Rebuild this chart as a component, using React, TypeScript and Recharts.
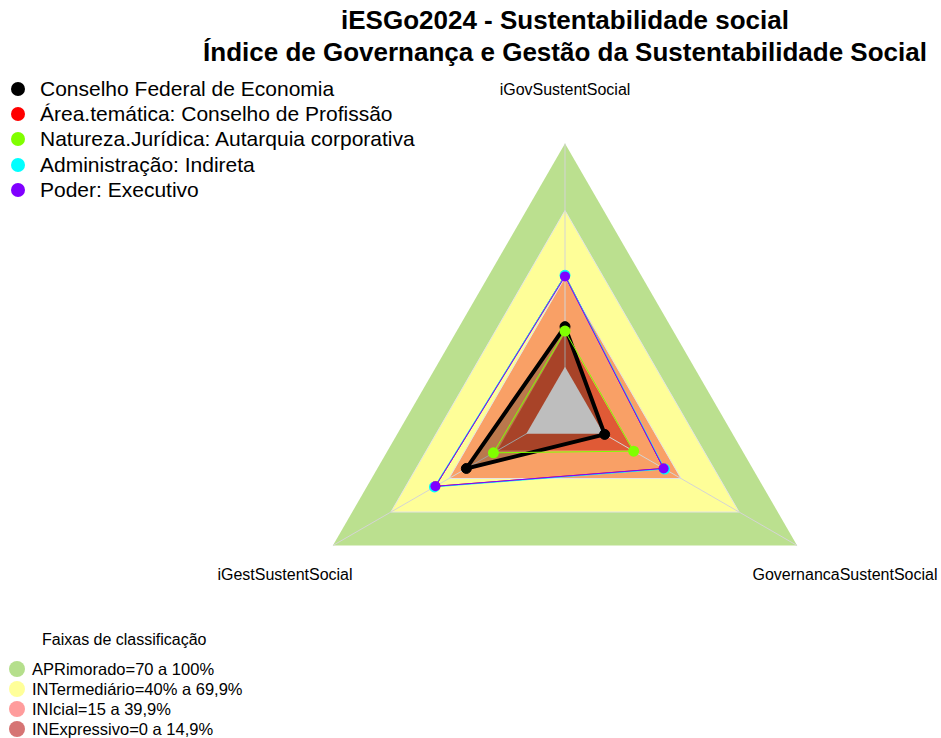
import { PolarAngleAxis, PolarGrid, PolarRadiusAxis, Radar, RadarChart } from "recharts";

// axes, clockwise from the top
const categories = ["iGovSustentSocial", "GovernancaSustentSocial", "iGestSustentSocial"];

// classification bands (same on every axis)
const bandAprimorado = [100, 100, 100];
const bandIntermediario = [70, 70, 70];
const bandInicial = [40, 40, 40];
const bandInexpressivo = [15, 15, 15];
const bandCentro = [0, 0, 0];

// series values
const conselhoFederal = [18, 0.5, 31];
const areaTematica = [41, 31, 47];
const naturezaJuridica = [16, 15.5, 17];
const administracao = [41, 31.5, 47.5];
const poder = [40.5, 31, 47];

const seriesLegend = [
  { name: "Conselho Federal de Economia", color: "#000000" },
  { name: "Área.temática: Conselho de Profissão", color: "#ff0000" },
  { name: "Natureza.Jurídica: Autarquia corporativa", color: "#80ff00" },
  { name: "Administração: Indireta", color: "#00ffff" },
  { name: "Poder: Executivo", color: "#8000ff" },
];

const bandLegend = [
  { name: "APRimorado=70 a 100%", color: "#b5df8c" },
  { name: "INTermediário=40% a 69,9%", color: "#ffff99" },
  { name: "INIcial=15 a 39,9%", color: "#ff9c9c" },
  { name: "INExpressivo=0 a 14,9%", color: "#d67474" },
];

const data = categories.map((axis, i) => ({
  axis,
  apr: bandAprimorado[i],
  int: bandIntermediario[i],
  ini: bandInicial[i],
  inx: bandInexpressivo[i],
  ctr: bandCentro[i],
  conselho: conselhoFederal[i],
  area: areaTematica[i],
  natureza: naturezaJuridica[i],
  admin: administracao[i],
  poder: poder[i],
}));

const labelOffset = [
  { dx: 0, dy: -46 },
  { dx: 41, dy: 25 },
  { dx: -41, dy: 25 },
];

const font = "Arial, 'Liberation Sans', sans-serif";

function AxisTick(props: any) {
  const { x, y, payload, index } = props;
  const o = labelOffset[index] ?? { dx: 0, dy: 0 };
  return (
    <text
      x={x + o.dx}
      y={y + o.dy}
      textAnchor="middle"
      dominantBaseline="central"
      fontSize={16}
      fill="#000"
      fontFamily={font}
    >
      {payload.value}
    </text>
  );
}

// both charts share the same geometry so they stack exactly
const chartProps = {
  width: 941,
  height: 738,
  data,
  cx: 565,
  cy: 411.5,
  outerRadius: 268,
  startAngle: 90,
  endAngle: -270,
  margin: { top: 0, right: 0, bottom: 0, left: 0 },
};

export default function App() {
  return (
    <div
      style={{
        position: "absolute",
        left: 0,
        top: 0,
        width: 941,
        height: 738,
        background: "#fff",
        fontFamily: font,
        overflow: "hidden",
      }}
    >
      <div style={{ position: "absolute", left: 4, top: -22, fontSize: 24, color: "#9aaee0" }}>Social</div>
      <div
        style={{
          position: "absolute",
          left: 0,
          width: 1130,
          top: 4,
          textAlign: "center",
          fontWeight: "bold",
          fontSize: 26,
          lineHeight: "32px",
          color: "#000",
        }}
      >
        iESGo2024 - Sustentabilidade social
        <br />
        Índice de Governança e Gestão da Sustentabilidade Social
      </div>

      {/* bands */}
      <div style={{ position: "absolute", left: 0, top: 0 }}>
        <RadarChart {...chartProps}>
          <PolarRadiusAxis domain={[-20, 100]} tick={false} axisLine={false} />
          <PolarAngleAxis dataKey="axis" tick={<AxisTick />} axisLine={false} tickLine={false} />
          <Radar dataKey="apr" fill="#bbe08f" fillOpacity={1} stroke="none" isAnimationActive={false} />
          <Radar dataKey="int" fill="#fefe98" fillOpacity={1} stroke="#e4e4e4" strokeWidth={1} isAnimationActive={false} />
          <Radar dataKey="ini" fill="#f9a066" fillOpacity={1} stroke="#e4e4e4" strokeWidth={1} isAnimationActive={false} />
          <Radar dataKey="inx" fill="#e05a36" fillOpacity={1} stroke="none" isAnimationActive={false} />
        </RadarChart>
      </div>

      {/* spokes and series on top */}
      <div style={{ position: "absolute", left: 0, top: 0 }}>
        <RadarChart {...chartProps}>
          <PolarRadiusAxis domain={[-20, 100]} tick={false} axisLine={false} />
          <PolarAngleAxis dataKey="axis" tick={false} axisLine={false} tickLine={false} />
          <PolarGrid gridType="polygon" polarRadius={[]} stroke="#d4d4d4" strokeWidth={1} />
          <Radar dataKey="conselho" fill="#000" fillOpacity={0.25} stroke="none" isAnimationActive={false} />
          <Radar dataKey="ctr" fill="#bebebe" fillOpacity={1} stroke="none" isAnimationActive={false} />
          <Radar
            dataKey="conselho"
            fill="none"
            stroke="#000"
            strokeWidth={4}
            dot={{ r: 5, fill: "#000", stroke: "#000", strokeWidth: 1 }}
            isAnimationActive={false}
          />
          <Radar
            dataKey="area"
            fill="none"
            stroke="#ff0000"
            strokeWidth={1}
            dot={{ r: 5, fill: "#ff0000", stroke: "none" }}
            isAnimationActive={false}
          />
          <Radar
            dataKey="natureza"
            fill="none"
            stroke="#80ff00"
            strokeWidth={1}
            dot={{ r: 5.5, fill: "#80ff00", stroke: "none" }}
            isAnimationActive={false}
          />
          <Radar
            dataKey="admin"
            fill="none"
            stroke="#00ffff"
            strokeWidth={1}
            dot={{ r: 5.5, fill: "#00ffff", stroke: "none" }}
            isAnimationActive={false}
          />
          <Radar
            dataKey="poder"
            fill="none"
            stroke="#8000ff"
            strokeWidth={1}
            dot={{ r: 5, fill: "#8000ff", stroke: "none" }}
            isAnimationActive={false}
          />
        </RadarChart>
      </div>

      <div style={{ position: "absolute", left: 11, top: 76 }}>
        {seriesLegend.map((s) => (
          <div key={s.name} style={{ display: "flex", alignItems: "center", height: 25.3 }}>
            <span
              style={{
                display: "inline-block",
                width: 14,
                height: 14,
                borderRadius: 7,
                background: s.color,
                marginRight: 15,
              }}
            />
            <span style={{ fontSize: 21, color: "#000", whiteSpace: "nowrap" }}>{s.name}</span>
          </div>
        ))}
      </div>

      <div style={{ position: "absolute", left: 42, top: 631, fontSize: 16, color: "#000" }}>
        Faixas de classificação
      </div>
      <div style={{ position: "absolute", left: 9, top: 659 }}>
        {bandLegend.map((b) => (
          <div key={b.name} style={{ display: "flex", alignItems: "center", height: 20 }}>
            <span
              style={{
                display: "inline-block",
                width: 16,
                height: 16,
                borderRadius: 8,
                background: b.color,
                marginRight: 7,
              }}
            />
            <span style={{ fontSize: 16.5, color: "#000", whiteSpace: "nowrap" }}>{b.name}</span>
          </div>
        ))}
      </div>
    </div>
  );
}
